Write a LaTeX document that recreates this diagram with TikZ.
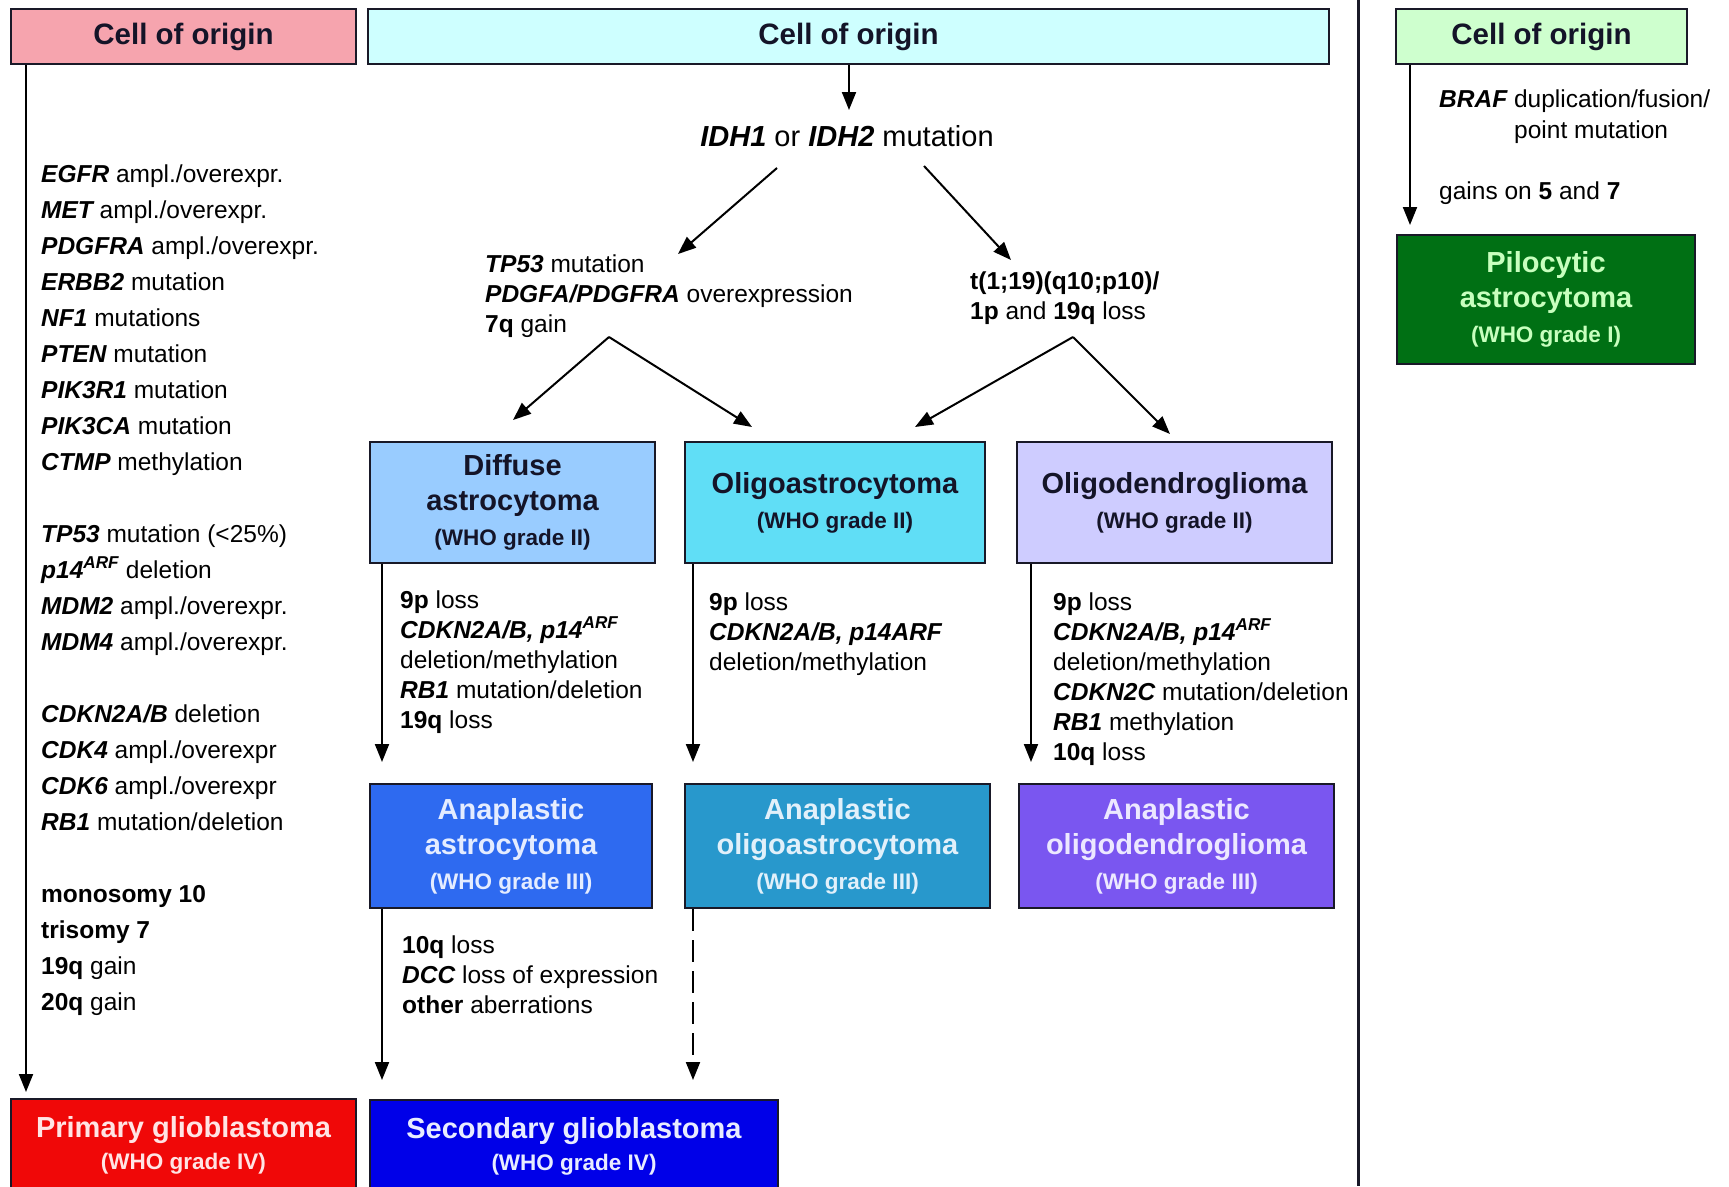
\documentclass[tikz,border=0pt]{standalone}
\usepackage{fontspec}
\setmainfont{Liberation Sans}
\usetikzlibrary{arrows.meta}
\definecolor{pinkhead}{RGB}{246,164,174}
\definecolor{cyanhead}{RGB}{206,255,255}
\definecolor{greenhead}{RGB}{206,255,206}
\definecolor{diffuse}{RGB}{153,204,255}
\definecolor{oligoastro}{RGB}{96,222,246}
\definecolor{oligodendro}{RGB}{206,204,255}
\definecolor{anaastro}{RGB}{46,106,240}
\definecolor{anaoligoastro}{RGB}{40,152,204}
\definecolor{anaoligodendro}{RGB}{122,86,240}
\definecolor{primgbm}{RGB}{240,8,8}
\definecolor{secgbm}{RGB}{0,0,232}
\definecolor{pilo}{RGB}{0,112,20}
\definecolor{edge}{RGB}{25,25,40}
\definecolor{darkink}{RGB}{20,20,40}
\newcommand{\gene}[1]{{\bfseries\itshape #1}}
\newcommand{\chrom}[1]{{\bfseries #1}}
\newcommand{\who}[1]{{\fontsize{22.5}{35}\selectfont #1}}

\begin{document}
\begin{tikzpicture}[x=1pt,y=-1pt,
  box/.style={draw=edge, line width=2.2pt, inner sep=0pt, align=center},
  header/.style={box, minimum height=55pt, text=darkink,
    font=\fontsize{29.5}{35}\selectfont\bfseries},
  tumor/.style={box, font=\fontsize{29}{35}\selectfont\bfseries},
  darktext/.style={text=darkink},
  % note blocks are placed by the baseline of their last line
  notes/.style={inner sep=0pt, anchor=base west, align=left, text=black,
    font=\fontsize{24.5}{30}\selectfont},
  arr/.style={line width=2pt, draw=black, -{Triangle[length=18pt,width=14pt]}},
]
\useasboundingbox (0,0) rectangle (1729,1186);
\fill[white] (0,0) rectangle (1729,1186);
\clip (0,0) rectangle (1729,1186);

% panel separator
\draw[line width=3pt, edge] (1358,0) -- (1358,1186);

% ---- headers ----
\node[header, fill=pinkhead, minimum width=345pt] (origP) at (183.5,36.5) {Cell of origin};
\node[header, fill=cyanhead, minimum width=961pt] (origC) at (848.5,36.5) {Cell of origin};
\node[header, fill=greenhead, minimum width=291pt] (origG) at (1541.5,36.5) {Cell of origin};

% ---- primary glioblastoma pathway ----
\node[notes, font=\fontsize{24.5}{36}\selectfont] (primlist) at (41,1010) {%
\gene{EGFR} ampl./overexpr.\\
\gene{MET} ampl./overexpr.\\
\gene{PDGFRA} ampl./overexpr.\\
\gene{ERBB2} mutation\\
\gene{NF1} mutations\\
\gene{PTEN} mutation\\
\gene{PIK3R1} mutation\\
\gene{PIK3CA} mutation\\
\gene{CTMP} methylation\\[36pt]
\gene{TP53} mutation (<25\%)\\
\gene{p14\textsuperscript{ARF}} deletion\\
\gene{MDM2} ampl./overexpr.\\
\gene{MDM4} ampl./overexpr.\\[36pt]
\gene{CDKN2A/B} deletion\\
\gene{CDK4} ampl./overexpr\\
\gene{CDK6} ampl./overexpr\\
\gene{RB1} mutation/deletion\\[36pt]
\chrom{monosomy 10}\\
\chrom{trisomy 7}\\
\chrom{19q} gain\\
\chrom{20q} gain};

\node[tumor, fill=primgbm, text={rgb,255:red,255;green,228;blue,228},
  minimum width=345pt, minimum height=92pt,
  font=\fontsize{29}{32}\selectfont\bfseries] (prim) at (183.5,1145)
  {Primary glioblastoma\\{\fontsize{22.5}{32}\selectfont (WHO grade IV)}};

\coordinate (primTip) at (26,1092);
\draw[arr] (origP.south -| primTip) -- (primTip);

% ---- IDH-mutant pathway ----
\node[anchor=base, inner sep=0pt, font=\fontsize{29}{35}\selectfont] (idh) at (847,146)
  {\gene{IDH1} or \gene{IDH2} mutation};
\coordinate (idhTip) at (849,110);
\draw[arr] (origC.south -| idhTip) -- (idhTip);

\node[notes] (astroroute) at (485,332) {%
\gene{TP53} mutation\\
\gene{PDGFA/PDGFRA} overexpression\\
\chrom{7q} gain};
\node[notes] (oligoroute) at (970,319) {%
\chrom{t(1;19)(q10;p10)/}\\
\chrom{1p} and \chrom{19q} loss};

\coordinate (idhL) at (777,168);
\coordinate (idhR) at (924,166);
\coordinate (astroTip) at (678,254);
\coordinate (oligoTip) at (1011,260);
\draw[arr] (idhL) -- (astroTip);
\draw[arr] (idhR) -- (oligoTip);

\coordinate (astroApex) at (609,337);
\coordinate (oligoApex) at (1073,337);
\coordinate (daTip) at (513,420);
\coordinate (oaTipL) at (752,427);
\coordinate (oaTipR) at (915,427);
\coordinate (odTip) at (1170,434);
\draw[arr] (astroApex) -- (daTip);
\draw[arr] (astroApex) -- (oaTipL);
\draw[arr] (oligoApex) -- (oaTipR);
\draw[arr] (oligoApex) -- (odTip);

% grade II
\node[tumor, fill=diffuse, darktext, minimum width=285pt, minimum height=121pt]
  (da) at (512.5,502.5) {Diffuse\\astrocytoma\\\who{(WHO grade II)}};
\node[tumor, fill=oligoastro, darktext, minimum width=300pt, minimum height=121pt]
  (oa) at (835,502.5) {Oligoastrocytoma\\\who{(WHO grade II)}};
\node[tumor, fill=oligodendro, darktext, minimum width=315pt, minimum height=121pt]
  (od) at (1174.5,502.5) {Oligodendroglioma\\\who{(WHO grade II)}};

% progression to grade III
\node[notes] (daNotes) at (400,728) {%
\chrom{9p} loss\\
\gene{CDKN2A/B, p14\textsuperscript{ARF}}\\
deletion/methylation\\
\gene{RB1} mutation/deletion\\
\chrom{19q} loss};
\node[notes] (oaNotes) at (709,670) {%
\chrom{9p} loss\\
\gene{CDKN2A/B, p14ARF}\\
deletion/methylation};
\node[notes] (odNotes) at (1053,760) {%
\chrom{9p} loss\\
\gene{CDKN2A/B, p14\textsuperscript{ARF}}\\
deletion/methylation\\
\gene{CDKN2C} mutation/deletion\\
\gene{RB1} methylation\\
\chrom{10q} loss};

\coordinate (aaTip) at (382,762);
\coordinate (aoaTip) at (693,762);
\coordinate (aodTip) at (1031,762);
\draw[arr] (da.south -| aaTip) -- (aaTip);
\draw[arr] (oa.south -| aoaTip) -- (aoaTip);
\draw[arr] (od.south -| aodTip) -- (aodTip);

% grade III
\node[tumor, fill=anaastro, text={rgb,255:red,228;green,236;blue,255},
  minimum width=282pt, minimum height=124pt]
  (aa) at (511,846) {Anaplastic\\astrocytoma\\\who{(WHO grade III)}};
\node[tumor, fill=anaoligoastro, text={rgb,255:red,225;green,240;blue,250},
  minimum width=305pt, minimum height=124pt]
  (aoa) at (837.5,846) {Anaplastic\\oligoastrocytoma\\\who{(WHO grade III)}};
\node[tumor, fill=anaoligodendro, text={rgb,255:red,236;green,232;blue,255},
  minimum width=315pt, minimum height=124pt]
  (aod) at (1176.5,846) {Anaplastic\\oligodendroglioma\\\who{(WHO grade III)}};

% progression to secondary glioblastoma
\node[notes] (aaNotes) at (402,1013) {%
\chrom{10q} loss\\
\gene{DCC} loss of expression\\
\chrom{other} aberrations};

\coordinate (sgTipA) at (382,1080);
\coordinate (sgTipB) at (693,1080);
\draw[arr] (aa.south -| sgTipA) -- (sgTipA);
\draw[arr, dash pattern=on 22pt off 9pt] (aoa.south -| sgTipB) -- (sgTipB);

\node[tumor, fill=secgbm, text={rgb,255:red,232;green,236;blue,255},
  minimum width=408pt, minimum height=92pt,
  font=\fontsize{29}{32}\selectfont\bfseries] (sec) at (574,1146)
  {Secondary glioblastoma\\{\fontsize{22.5}{32}\selectfont (WHO grade IV)}};

% ---- pilocytic astrocytoma pathway ----
\node[notes, font=\fontsize{24.5}{31}\selectfont] (brafNotes) at (1439,138) {%
\gene{BRAF} duplication/fusion/\\
\hspace*{75pt}point mutation};
\node[notes] (gainNotes) at (1439,199) {gains on \chrom{5} and \chrom{7}};

\coordinate (piloTip) at (1410,225);
\draw[arr] (origG.south -| piloTip) -- (piloTip);

\node[tumor, fill=pilo, text={rgb,255:red,200;green,255;blue,190},
  minimum width=298pt, minimum height=129pt]
  (pa) at (1546,299.5) {Pilocytic\\astrocytoma\\\who{(WHO grade I)}};
\end{tikzpicture}
\end{document}
